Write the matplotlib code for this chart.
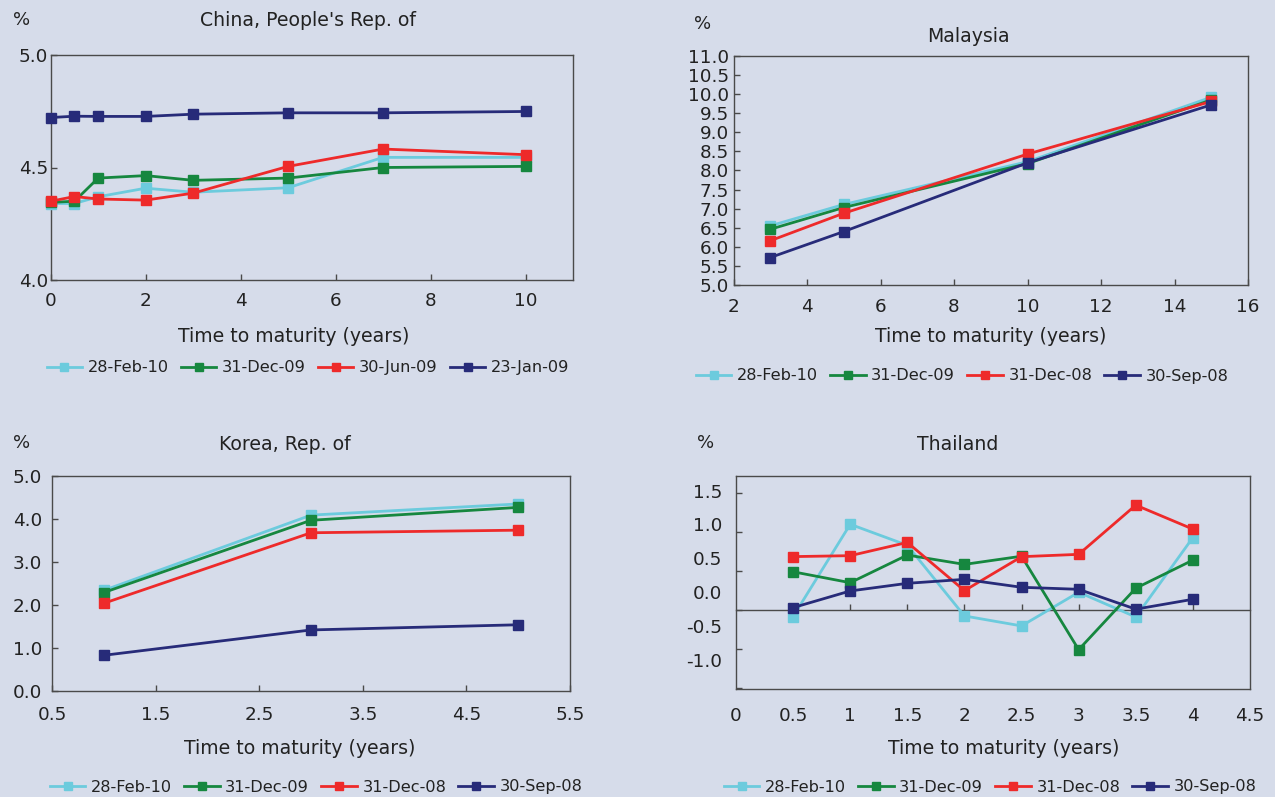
import matplotlib
matplotlib.use("Agg")
import matplotlib.pyplot as plt
from matplotlib.lines import Line2D
from matplotlib.ticker import FixedLocator, FuncFormatter

W, H = 1275, 797
BG = "#D6DCEA"
SPINE = "#4A4A4A"
TXT = "#222222"
COLORS = ["#6CCBDD", "#16873F", "#EE2A2A", "#272B79"]

# ---------------- data ----------------
china_x = [0, 0.5, 1, 2, 3, 5, 7, 10]
china_labels = ["28-Feb-10", "31-Dec-09", "30-Jun-09", "23-Jan-09"]
china_feb10 = [4.340, 4.340, 4.370, 4.408, 4.390, 4.410, 4.545, 4.545]
china_dec09 = [4.345, 4.350, 4.453, 4.464, 4.443, 4.453, 4.500, 4.505]
china_jun09 = [4.350, 4.371, 4.360, 4.355, 4.386, 4.505, 4.582, 4.557]
china_jan09 = [4.722, 4.728, 4.727, 4.727, 4.737, 4.743, 4.743, 4.749]

malaysia_x = [3, 5, 10, 15]
malaysia_labels = ["28-Feb-10", "31-Dec-09", "31-Dec-08", "30-Sep-08"]
malaysia_feb10 = [6.55, 7.11, 8.23, 9.92]
malaysia_dec09 = [6.46, 7.03, 8.18, 9.85]
malaysia_dec08 = [6.16, 6.88, 8.43, 9.81]
malaysia_sep08 = [5.72, 6.40, 8.20, 9.72]

korea_x = [1, 3, 5]
korea_labels = ["28-Feb-10", "31-Dec-09", "31-Dec-08", "30-Sep-08"]
korea_feb10 = [2.34, 4.09, 4.35]
korea_dec09 = [2.29, 3.97, 4.27]
korea_dec08 = [2.04, 3.68, 3.74]
korea_sep08 = [0.83, 1.42, 1.54]

thailand_x = [0.5, 1, 1.5, 2, 2.5, 3, 3.5, 4]
thailand_labels = ["28-Feb-10", "31-Dec-09", "31-Dec-08", "30-Sep-08"]
thailand_feb10 = [-0.085, 1.10, 0.83, -0.077, -0.205, 0.227, -0.090, 0.93]
thailand_dec09 = [0.49, 0.35, 0.705, 0.585, 0.69, -0.51, 0.279, 0.64]
thailand_dec08 = [0.685, 0.697, 0.867, 0.248, 0.684, 0.714, 1.346, 1.038]
thailand_sep08 = [0.03, 0.244, 0.342, 0.393, 0.291, 0.265, 0.01, 0.137]

# ---------------- figure ----------------
plt.rcParams["font.family"] = ["DejaVu Sans"]
fig = plt.figure(figsize=(W / 100, H / 100), dpi=100, facecolor=BG)

TICK_FS = 13.2
TITLE_FS = 13.6


def make_axes(l, t, r, b):
    ax = fig.add_axes([l / W, 1 - b / H, (r - l) / W, (b - t) / H])
    ax.set_facecolor(BG)
    for s in ax.spines.values():
        s.set_color(SPINE)
        s.set_linewidth(1.0)
    ax.tick_params(direction="in", length=4, width=1.0, color=SPINE,
                   labelsize=TICK_FS, labelcolor=TXT, top=False, right=False)
    return ax


def plot_series(ax, x, series):
    for y, c in zip(series, COLORS):
        ax.plot(x, y, color=c, lw=2.0, marker="s", ms=6.5, mec=c, clip_on=False, zorder=3)


def add_legend(labels, cx, cy):
    handles = [Line2D([], [], color=c, lw=2.0, marker="s", ms=5.5, mec=c) for c in COLORS]
    fig.legend(handles, labels, loc="center", bbox_to_anchor=(cx / W, 1 - cy / H),
               ncol=4, frameon=False, fontsize=11.6, handlelength=2.2,
               handletextpad=0.35, columnspacing=0.75, labelcolor=TXT)


def ftext(x, y, s, size=TITLE_FS, ha="center"):
    fig.text(x / W, 1 - y / H, s, ha=ha, va="center", fontsize=size, color=TXT)


fmt1 = FuncFormatter(lambda v, p: f"{v:.1f}")
fmtg = FuncFormatter(lambda v, p: f"{v:g}")

# ---- China ----
ax = make_axes(50.7, 55, 573, 280)
plot_series(ax, china_x, [china_feb10, china_dec09, china_jun09, china_jan09])
ax.set_xlim(0, 11)
ax.set_ylim(4.0, 5.0)
ax.xaxis.set_major_locator(FixedLocator([0, 2, 4, 6, 8, 10]))
ax.yaxis.set_major_locator(FixedLocator([4.0, 4.5, 5.0]))
ax.yaxis.set_major_formatter(fmt1)
ax.tick_params(axis="x", pad=9)
ax.tick_params(axis="y", pad=2)
ftext(22, 20, "%", size=13)
ftext(308, 20, "China, People's Rep. of")
ftext(294, 336, "Time to maturity (years)")
add_legend(china_labels, 308, 368)

# ---- Malaysia ----
ax = make_axes(733.5, 56, 1248, 285)
plot_series(ax, malaysia_x, [malaysia_feb10, malaysia_dec09, malaysia_dec08, malaysia_sep08])
ax.set_xlim(2, 16)
ax.set_ylim(5.0, 11.0)
ax.xaxis.set_major_locator(FixedLocator(list(range(2, 17, 2))))
ax.yaxis.set_major_locator(FixedLocator([5 + 0.5 * i for i in range(13)]))
ax.yaxis.set_major_formatter(fmt1)
ax.tick_params(axis="x", pad=9)
ax.tick_params(axis="y", pad=3)
ftext(703, 24, "%", size=13)
ftext(968, 37, "Malaysia")
ftext(991, 336, "Time to maturity (years)")
add_legend(malaysia_labels, 962, 376)

# ---- Korea ----
ax = make_axes(52, 476, 570, 691)
plot_series(ax, korea_x, [korea_feb10, korea_dec09, korea_dec08, korea_sep08])
ax.set_xlim(0.5, 5.5)
ax.set_ylim(0.0, 5.0)
ax.xaxis.set_major_locator(FixedLocator([0.5, 1.5, 2.5, 3.5, 4.5, 5.5]))
ax.yaxis.set_major_locator(FixedLocator([0, 1, 2, 3, 4, 5]))
ax.xaxis.set_major_formatter(fmt1)
ax.yaxis.set_major_formatter(fmt1)
ax.tick_params(axis="x", pad=11)
ax.tick_params(axis="y", pad=7)
ftext(22, 443, "%", size=13)
ftext(285, 445, "Korea, Rep. of")
ftext(300, 749, "Time to maturity (years)")
add_legend(korea_labels, 316, 787)

# ---- Thailand ----
ax = make_axes(736, 476, 1250, 689)
plot_series(ax, thailand_x, [thailand_feb10, thailand_dec09, thailand_dec08, thailand_sep08])
ax.set_xlim(0, 4.5)
ax.set_ylim(-1.015, 1.72)
ax.xaxis.set_major_locator(FixedLocator([0, 0.5, 1, 1.5, 2, 2.5, 3, 3.5, 4, 4.5]))
ax.xaxis.set_major_formatter(fmtg)
ax.tick_params(axis="x", length=0, pad=13)
ax.yaxis.set_major_locator(FixedLocator([-1.0, -0.5, 0.0, 0.5, 1.0, 1.5]))
ax.tick_params(axis="y", labelleft=False)
# zero line carrying the x tick marks
zx = ax.secondary_xaxis(0, transform=ax.transData)
zx.spines["bottom"].set_color(SPINE)
zx.spines["bottom"].set_linewidth(1.0)
zx.xaxis.set_major_locator(FixedLocator([0.5, 1, 1.5, 2, 2.5, 3, 3.5, 4]))
zx.tick_params(direction="in", length=4, width=1.0, color=SPINE, labelbottom=False)
# tick labels as drawn in the original (offset from the tick marks)
LBL_SCALE, LBL_SHIFT = 1.149, -0.261
ly = ax.secondary_yaxis("left", functions=(lambda u: LBL_SCALE * u + LBL_SHIFT,
                                           lambda v: (v - LBL_SHIFT) / LBL_SCALE))
ly.spines["left"].set_visible(False)
ly.yaxis.set_major_locator(FixedLocator([-1.0, -0.5, 0.0, 0.5, 1.0, 1.5]))
ly.yaxis.set_major_formatter(fmt1)
ly.tick_params(length=0, pad=10, labelsize=TICK_FS, labelcolor=TXT)
ftext(706, 443, "%", size=13)
ftext(958, 445, "Thailand")
ftext(1004, 749, "Time to maturity (years)")
add_legend(thailand_labels, 990, 787)

fig.savefig("out.png", dpi=100, facecolor=BG)
